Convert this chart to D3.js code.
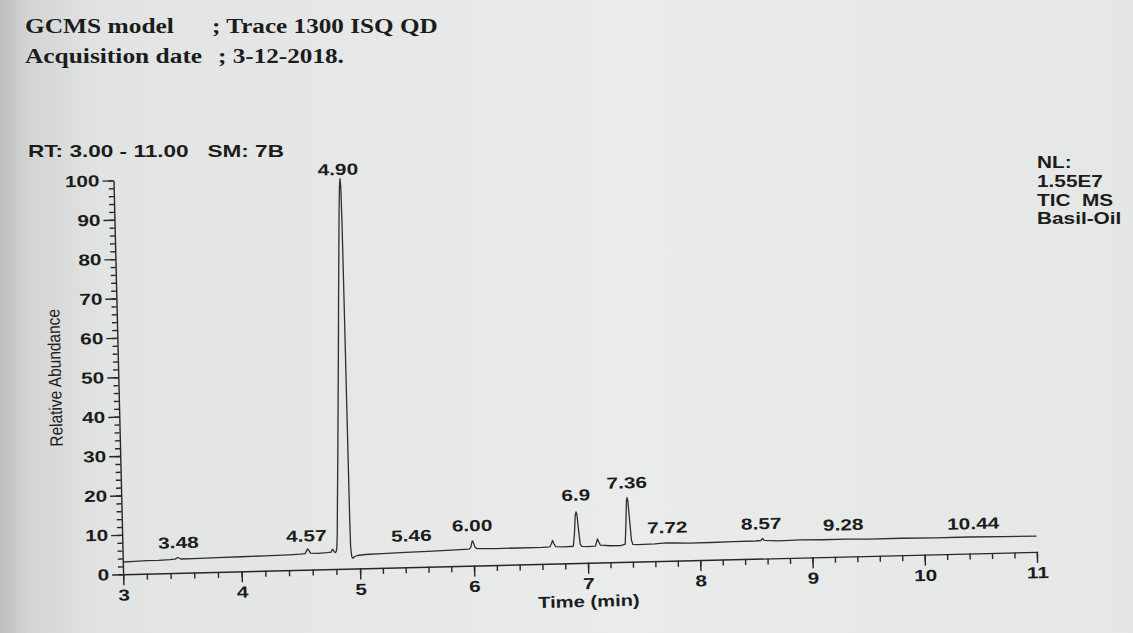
<!DOCTYPE html>
<html>
<head>
<meta charset="utf-8">
<script src="https://cdn.jsdelivr.net/npm/d3@7"></script>
<style>
  html, body { margin: 0; padding: 0; background: #e6e8e7; }
  svg { display: block; }
</style>
</head>
<body>
<svg id="chart" width="1133" height="633"></svg>
<script>
// ---------------- DATA ----------------
const headerLabels = ["GCMS model", "Acquisition date"];
const headerValues = ["; Trace 1300 ISQ QD", "; 3-12-2018."];
const rangeInfo = "RT: 3.00 - 11.00   SM: 7B";
const infoLines = ["NL:", "1.55E7", "TIC  MS", "Basil-Oil"];
const xAxisTitle = "Time (min)";
const yAxisTitle = "Relative Abundance";

const xTicks = [3, 4, 5, 6, 7, 8, 9, 10, 11];
const yTicks = [0, 10, 20, 30, 40, 50, 60, 70, 80, 90, 100];

// TIC trace: retention time (min) and relative abundance (%)
const traceTime = [
  3.00, 3.10, 3.20, 3.30, 3.40, 3.44, 3.465, 3.49, 3.60, 3.80, 4.00, 4.20, 4.40, 4.50,
  4.54, 4.552, 4.562, 4.572, 4.585, 4.65, 4.72, 4.76, 4.768, 4.775, 4.785, 4.795,
  4.803, 4.809, 4.815, 4.822, 4.835, 4.848, 4.861, 4.873, 4.885, 4.897, 4.905, 4.911,
  4.916, 4.919, 4.920, 4.921, 4.922, 4.923, 4.925, 4.933, 4.943, 4.955, 4.98, 5.05,
  5.20, 5.40, 5.60, 5.80,
  5.96, 5.975, 5.985, 5.992, 6.000, 6.012, 6.03, 6.20, 6.40, 6.60, 6.67, 6.685, 6.694,
  6.705, 6.72, 6.80, 6.875, 6.888, 6.898, 6.906, 6.914, 6.924, 6.936, 6.95, 7.00, 7.07,
  7.082, 7.09, 7.10, 7.115, 7.20, 7.30, 7.336, 7.347, 7.356, 7.362, 7.369, 7.380, 7.392,
  7.404, 7.45, 7.60, 7.70, 7.78, 7.90, 8.10, 8.30, 8.50, 8.545, 8.56, 8.575, 8.70, 8.90,
  9.10, 9.30, 9.50, 9.80, 10.10, 10.40, 10.70, 11.00
];
const traceAbundance = [
  3.1, 3.2, 3.3, 3.3, 3.4, 3.5, 3.9, 3.5, 3.5, 3.6, 3.7, 3.8, 3.9, 4.0,
  4.1, 4.8, 5.3, 4.9, 4.2, 4.1, 4.2, 4.3, 4.9, 5.0, 4.4, 4.2,
  4.5, 5.5, 9, 16, 28, 41, 54, 67, 79, 91, 97, 99,
  97, 88, 75, 55, 30, 12, 5.5, 3.0, 2.6, 3.0, 3.3, 3.5,
  3.6, 3.8, 3.9, 4.1,
  4.2, 4.6, 5.8, 6.3, 5.8, 4.7, 4.3, 4.2, 4.2, 4.2, 4.3, 5.2, 5.9,
  5.1, 4.3, 4.2, 4.3, 7.5, 12.0, 13.0, 12.2, 8.5, 4.8, 4.2, 4.1, 4.2,
  5.3, 6.0, 5.3, 4.4, 4.2, 4.2, 4.5, 10, 15.5, 16.3, 15.4, 10.5, 5.5,
  4.4, 4.3, 4.4, 4.6, 4.5, 4.4, 4.4, 4.5, 4.5, 4.6, 5.1, 4.6, 4.4, 4.5,
  4.4, 4.4, 4.3, 4.3, 4.2, 4.2, 4.1, 4.0
];

// Peak annotations: label text, retention time where drawn, abundance level of the label baseline
const peakLabels = ["3.48", "4.57", "4.90", "5.46", "6.00", "6.9", "7.36", "7.72", "8.57", "9.28", "10.44"];
const peakTimes  = [3.473, 4.554, 4.895, 5.457, 5.992, 6.908, 7.362, 7.714, 8.551, 9.281, 10.439];
const peakLevels = [5.0, 5.9, 98.7, 5.3, 7.5, 14.6, 17.4, 5.8, 6.2, 5.4, 4.9];

// ---------------- DRAWING ----------------
const SX = 1.3;          // horizontal stretch of the photographed print
const ink = "#1c1c1c";

const svg = d3.select("#chart");
const defs = svg.append("defs");
const bg = defs.append("linearGradient").attr("id", "bg").attr("x1", 0).attr("x2", 1).attr("y1", 0).attr("y2", 0);
[["0%", "#bcbebd"], ["2.5%", "#d3d5d4"], ["9%", "#e2e4e3"], ["55%", "#eaeceb"], ["100%", "#e5e7e6"]]
  .forEach(([o, c]) => bg.append("stop").attr("offset", o).attr("stop-color", c));
svg.append("rect").attr("width", 1133).attr("height", 633).attr("fill", "url(#bg)");

// Header (serif, typed on the page)
const header = svg.append("g")
  .attr("font-family", "'Liberation Serif', 'Times New Roman', serif")
  .attr("font-weight", "bold").attr("font-size", 20).attr("fill", ink);
const headerValueX = [212, 218];
headerLabels.forEach((t, i) => {
  header.append("text").attr("transform", `translate(25,${33 + 30 * i}) scale(1.27,1)`).text(t);
  header.append("text").attr("transform", `translate(${headerValueX[i]},${33 + 30 * i}) scale(1.26,1)`).text(headerValues[i]);
});

// Instrument info texts
const info = svg.append("g")
  .attr("font-family", "'Liberation Sans', Arial, sans-serif")
  .attr("font-weight", "bold").attr("fill", ink);
info.append("text").attr("font-size", 16.5)
  .attr("transform", `translate(28,157) scale(1.37,1)`)
  .style("white-space", "pre")
  .text(rangeInfo);
infoLines.forEach((t, i) => {
  info.append("text").attr("font-size", 16)
    .attr("transform", `translate(1037,${168 + 18.8 * i}) scale(${SX},1)`)
    .style("white-space", "pre")
    .text(t);
});

// Plot frame (slightly rotated like the photographed page)
const plot = svg.append("g").attr("transform", "rotate(-1.4 580 380)");
const x = d3.scaleLinear().domain([3, 5, 7, 11]).range([118.5, 355.5, 583.5, 1032.5]);
const y = d3.scaleLinear().domain([0, 100]).range([563, 169]);

const minorX = d3.range(15, 56).map(i => i / 5);
const minorY = d3.range(0, 51).map(i => i * 2);

function styleAxis(g) {
  g.attr("font-family", "'Liberation Sans', Arial, sans-serif").attr("font-size", 16)
   .attr("font-weight", "bold");
  g.selectAll("path, line").attr("stroke", "#262626").attr("stroke-width", 1.4);
  g.selectAll("text").attr("fill", ink);
}

// x axis
const xMinorG = plot.append("g").attr("transform", `translate(0,${y(0)})`)
  .call(d3.axisBottom(x).tickValues(minorX).tickSize(6).tickSizeOuter(0).tickFormat(""));
xMinorG.select(".domain").remove();
styleAxis(xMinorG);
const xAxisG = plot.append("g").attr("transform", `translate(0,${y(0)})`)
  .call(d3.axisBottom(x).tickValues(xTicks).tickSize(11).tickPadding(4).tickSizeOuter(0).tickFormat(d3.format("d")));
styleAxis(xAxisG);
xAxisG.selectAll("text").attr("transform", `scale(${SX},1)`);

// y axis
const yMinorG = plot.append("g").attr("transform", `translate(${x(3)},0)`)
  .call(d3.axisLeft(y).tickValues(minorY).tickSize(5).tickSizeOuter(0).tickFormat(""));
yMinorG.select(".domain").remove();
styleAxis(yMinorG);
const yAxisG = plot.append("g").attr("transform", `translate(${x(3)},0)`)
  .call(d3.axisLeft(y).tickValues(yTicks).tickSize(11).tickPadding(3).tickSizeOuter(0).tickFormat(d3.format("d")));
styleAxis(yAxisG);
yAxisG.selectAll("text").attr("x", -14 / SX).attr("transform", `scale(${SX},1)`);

// axis titles
plot.append("text")
  .attr("transform", `translate(${x(7)},607) scale(${SX * 0.97},1)`)
  .attr("text-anchor", "middle").attr("font-family", "'Liberation Sans', Arial, sans-serif")
  .attr("font-size", 16).attr("font-weight", "bold").attr("fill", ink).text(xAxisTitle);
plot.append("text")
  .attr("transform", "translate(55,365) rotate(-90) scale(1,1.15)")
  .attr("text-anchor", "middle").attr("dy", "0.35em")
  .attr("font-family", "'Liberation Sans', Arial, sans-serif")
  .attr("font-size", 15.5).attr("fill", ink).text(yAxisTitle);

// trace
const line = d3.line().x(d => x(d[0])).y(d => y(d[1]));
plot.append("path").datum(d3.zip(traceTime, traceAbundance))
  .attr("d", line).attr("fill", "none")
  .attr("stroke", "#2e2e2e").attr("stroke-width", 1.3).attr("stroke-linejoin", "round");

// peak labels
plot.append("g").attr("font-family", "'Liberation Sans', Arial, sans-serif")
  .attr("font-size", 16).attr("font-weight", "bold").attr("fill", ink)
  .selectAll("text").data(peakLabels).join("text")
  .attr("text-anchor", "middle")
  .attr("transform", (d, i) => `translate(${x(peakTimes[i])},${y(peakLevels[i]) - 5}) scale(${SX},1)`)
  .text(d => d);
</script>
</body>
</html>
